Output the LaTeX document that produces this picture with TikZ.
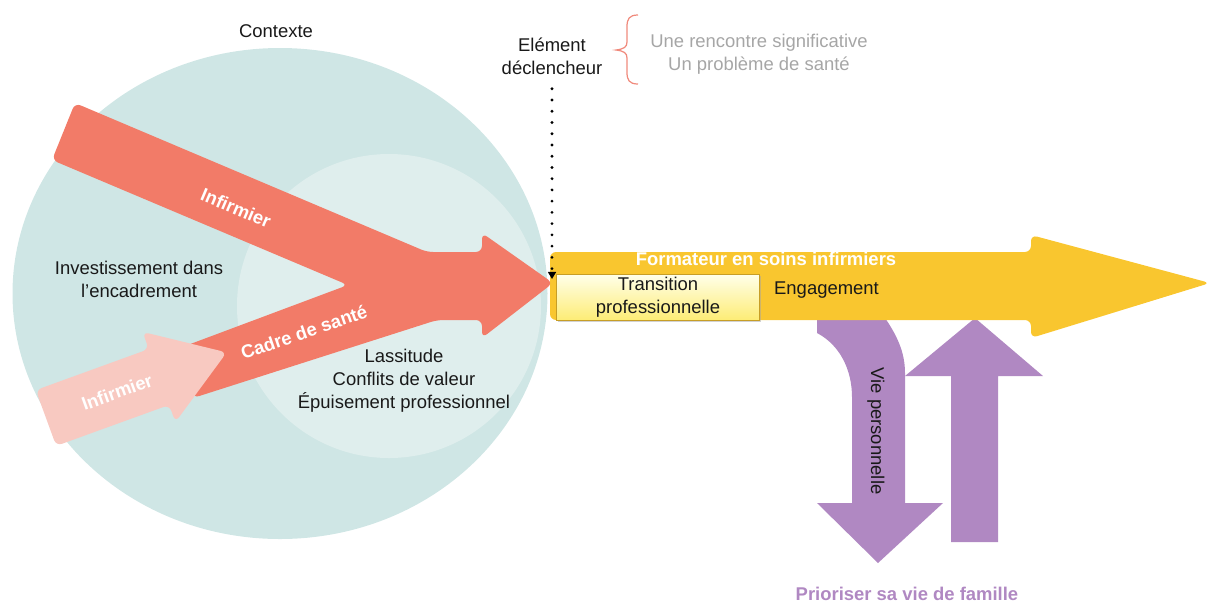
\documentclass[tikz,border=0pt]{standalone}
\usepackage{fontspec}
\setmainfont{Liberation Sans}
\usetikzlibrary{arrows.meta,positioning,shadows}
\definecolor{ctxTeal}{HTML}{CFE6E5}
\definecolor{ctxLight}{HTML}{DFEEED}
\definecolor{nurseRed}{HTML}{F27B68}
\definecolor{nursePink}{HTML}{F8C9C1}
\definecolor{trainYellow}{HTML}{F9C62F}
\definecolor{lifePurple}{HTML}{B088C2}
\definecolor{noteGray}{HTML}{A6A6A6}
\definecolor{braceRed}{HTML}{F08A7C}

\begin{document}
\begin{tikzpicture}[x=0.02cm,y=-0.02cm,
    every node/.style={font=\fontsize{10.5}{13}\selectfont,inner sep=0pt,align=center,text=black!90},
    bandtext/.style={font=\fontsize{10.5}{13}\selectfont\bfseries,text=white},
    dotline/.style={line width=1.8pt,dash pattern=on 0pt off 6.4pt,line cap=round,-{Triangle[width=4.5pt,length=4pt]}},
    fatarrow/.style={rounded corners=3.5pt}]
    \useasboundingbox (0,0) rectangle (1211,603);
    \fill[ctxTeal] (280,293.5) ellipse [x radius=267.5,y radius=245.5];
    \fill[ctxLight] (389,306) circle [radius=152];
    \fill[lifePurple] (817,315) -- (883,315) .. controls (897,335) and (905,352) .. (905,373) -- (905,503) -- (943,503) -- (878,563) -- (817,503) -- (852,503) -- (852,397) .. controls (852,370) and (840,345) .. (817,333) -- cycle;
    \fill[lifePurple] (951,542) -- (998,542) -- (998,376) -- (1043,376) -- (975,318) -- (905,376) -- (951,376) -- cycle;
    \fill[trainYellow,fatarrow] (550,252) -- (1031,252) -- (1031,235) -- (1210,283) -- (1031,338) -- (1031,320) -- (550,320) -- cycle;
    \fill[nurseRed,fatarrow] (75,103) -- (427,252) -- (482,252) -- (482,233) -- (553,283) -- (482,338) -- (482,320) -- (437,320) -- (193,398) -- (185,346) -- (348,285) -- (52,160) -- cycle;
    \fill[nursePink,fatarrow] (35.8,390.1) -- (148.8,349.1) -- (142.6,331.9) -- (226.7,352.4) -- (175.4,422.1) -- (169.2,404.9) -- (56.2,445.9) -- cycle;
    \node (context) at (276,31) {Contexte};
    \node (trigger) at (552,56) {Elément\\déclencheur};
    \node[text=noteGray] (events) at (759,54) {Une rencontre significative\\Un problème de santé};
    \draw[braceRed,line width=0.7pt] (638,15) .. controls (629,15) and (627,19) .. (627,27) -- (627,42) .. controls (627,47) and (624,49) .. (616,50) .. controls (624,51) and (627,53) .. (627,58) -- (627,72) .. controls (627,80) and (629,84) .. (638,84);
    \node (invest) at (139,279) {Investissement dans\\l’encadrement};
    \node (strain) at (404,381) {Lassitude\\Conflits de valeur\\Épuisement professionnel};
    \node[bandtext,rotate=-23] (nurseA) at (236,208) {Infirmier};
    \node[bandtext,rotate=19] (manager) at (304,332) {Cadre de santé};
    \node[bandtext,rotate=20] (nurseB) at (117,392) {Infirmier};
    \node[bandtext] (trainer) at (766,259) {Formateur en soins infirmiers};
    \node[draw=trainYellow!80!black,line width=0.4pt,top color=yellow!8,bottom color=yellow!45!trainYellow!60,
      minimum width=4.06cm,minimum height=0.92cm,drop shadow={shadow xshift=1pt,shadow yshift=-1pt,fill=black!35}] (transition) at (658,297) {Transition\\professionnelle};
    \node[right=0.28cm of transition.east,yshift=0.14cm,anchor=west] (engage) {Engagement};
    \node[rotate=-90] (personal) at (876,431) {Vie personnelle};
    \node[font=\fontsize{10.5}{13}\selectfont\bfseries,text=lifePurple] (family) at (907,594) {Prioriser sa vie de famille};
    \coordinate (entry) at (552,279);
    \draw[dotline] ([yshift=-8pt]trigger.south) -- (entry);
  \end{tikzpicture}
\end{document}
